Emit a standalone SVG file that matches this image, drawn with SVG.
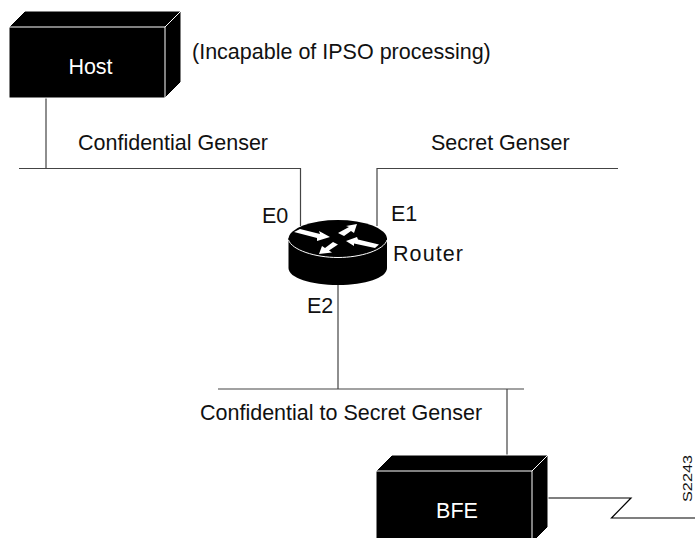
<svg xmlns="http://www.w3.org/2000/svg" width="695" height="538" viewBox="0 0 695 538">
<style>
text{font-family:"Liberation Sans",Arial,sans-serif;font-size:21.500px;fill:#111}
.w{fill:#fff;text-anchor:middle}
.box{fill:#000;stroke:#fff;stroke-width:1}
.c{fill:none;stroke:#444;stroke-width:1.200}
.a{fill:#fff}
</style>
<rect width="695" height="538" fill="#fff"/>
<g id="connectors">
<path class="c" d="M46 98V168.500M19 168.500H300.500V226"/>
<path class="c" d="M377 226V168.500H618"/>
<path class="c" d="M338 285V389M218 389H524"/>
<path class="c" d="M507 389V456"/>
<path class="c" style="stroke:#000" d="M548 498H631L611.500 518H695"/>
</g>
<g id="host">
<path class="box" d="M9 27L25 11H181V82L165 98H9Z"/>
<path d="M9 27H165V98M165 27L181 11" fill="none" stroke="#fff"/>
<text class="w" x="90.500" y="74">Host</text>
</g>
<g id="router">
<path d="M288.500 238V268C288.500 278 311 285 338 285S387 278 387 268V238Z" fill="#000"/>
<ellipse cx="337.750" cy="239" rx="49.250" ry="19" fill="#000"/>
<path d="M288.500 240C292 250 315 257.500 338 257.500S384 250 387 240" fill="none" stroke="#fff" stroke-width="1"/>
<path class="a" d="M294 232L300 229L320 234L319 231L330 237L317 241L317 238Z"/>
<path class="a" d="M338 233L349 227L346 226L357 224L354 233L351 231L344 236Z"/>
<path class="a" d="M346 241L357 237L358 239.500L379 244.500L375 248L354 243.500L354 246Z"/>
<path class="a" d="M319 254L322 246L325 248L333 242L338 244.500L329 250.500L332 252.500Z"/>
<text x="393" y="261" textLength="70">Router</text>
</g>
<g id="bfe">
<path class="box" d="M376 471L392 455H548V527L536 539H376Z"/>
<path d="M376 471H532V539M532 471L548 455" fill="none" stroke="#fff"/>
<text class="w" x="457" y="518">BFE</text>
</g>
<g id="labels">
<text x="192" y="59">(Incapable of IPSO processing)</text>
<text x="78" y="150">Confidential Genser</text>
<text x="431" y="150">Secret Genser</text>
<text x="262" y="223">E0</text>
<text x="391" y="221">E1</text>
<text x="307" y="313">E2</text>
<text x="200" y="420">Confidential to Secret Genser</text>
<text transform="translate(692,502) rotate(-90)" style="font-size:13.500px" textLength="47" lengthAdjust="spacingAndGlyphs">S2243</text>
</g>
</svg>
